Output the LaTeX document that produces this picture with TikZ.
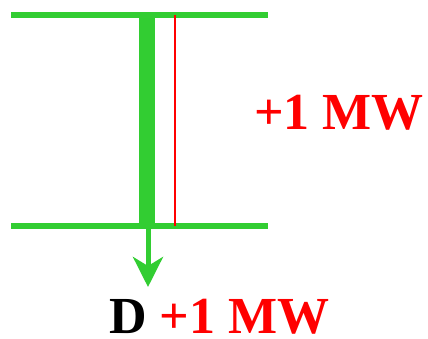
\documentclass[tikz,border=0pt]{standalone}
\usepackage{fontspec}
\setmainfont{Liberation Serif}
\usetikzlibrary{arrows.meta}
\definecolor{busgreen}{RGB}{50,205,50}
\begin{document}
\begin{tikzpicture}[x=1pt,y=1pt,
  bus/.style={draw=busgreen,line width=6pt},
  big/.style={font=\fontsize{52}{60}\selectfont\bfseries,inner sep=0pt}]
  \useasboundingbox (0,0) rectangle (428,339);
  % Bus bars
  \coordinate (topL) at (11,324);
  \coordinate (topR) at (268,324);
  \coordinate (botL) at (11,113);
  \coordinate (botR) at (268,113);
  \draw[bus] (topL) -- (topR);
  \draw[bus] (botL) -- (botR);

  % Line between the buses and the added flow
  \coordinate (lineT) at (147,324);
  \coordinate (lineB) at (147,113);
  \draw[busgreen,line width=16pt] (lineT) -- (lineB);
  \coordinate (flowT) at (175,324);
  \coordinate (flowB) at (175,113);
  \draw[red,line width=2pt] (flowT) -- (flowB);

  % Load arrow
  \coordinate (loadTip) at (148,52);
  \draw[busgreen,line width=5pt,-{Stealth[length=30pt,width=30pt,inset=9pt]}] (148,110) -- (loadTip);

  % Labels
  \node[big,text=red,anchor=base west] (flowlabel) at (254,209) {+1 MW};
  \node[big,anchor=base west] (loadlabel) at (109,5) {D \textcolor{red}{+1 MW}};
\end{tikzpicture}
\end{document}
